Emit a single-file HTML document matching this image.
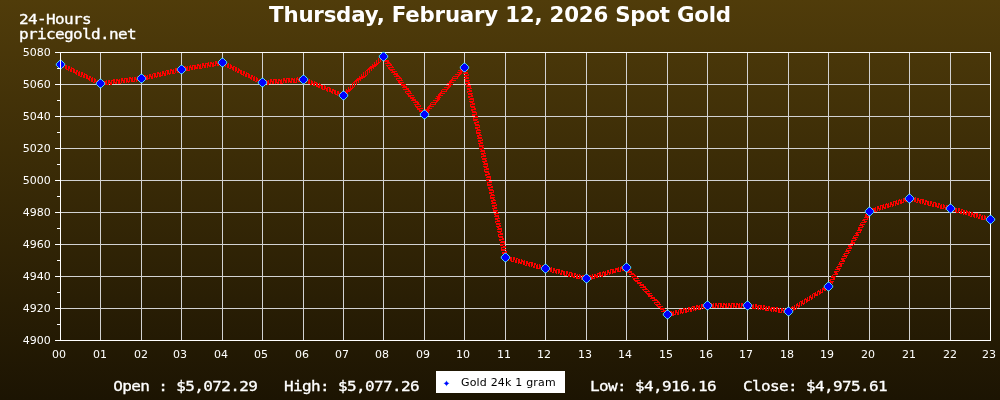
<!DOCTYPE html>
<html><head><meta charset="utf-8"><title>Spot Gold</title>
<style>
html,body{margin:0;padding:0;background:#1c1402;overflow:hidden}
svg{display:block}
text{font-family:"DejaVu Sans","Liberation Sans",sans-serif;fill:#fff}
.m{font-family:"DejaVu Sans Mono","Liberation Mono",monospace;font-size:13.7px;fill:#fff;stroke:#fff;stroke-width:0.3px}
.a{font-size:11px}
</style></head><body>
<svg width="1000" height="400" viewBox="0 0 1000 400">
<defs><linearGradient id="bg" x1="0" y1="0" x2="0" y2="1"><stop offset="0" stop-color="#503c0a"/><stop offset="1" stop-color="#1c1402"/></linearGradient></defs>
<rect width="1000" height="400" fill="url(#bg)"/>

<g stroke="#d2d2d2" stroke-width="1" shape-rendering="crispEdges">
<line x1="61" y1="84.5" x2="990" y2="84.5"/>
<line x1="61" y1="116.5" x2="990" y2="116.5"/>
<line x1="61" y1="148.5" x2="990" y2="148.5"/>
<line x1="61" y1="180.5" x2="990" y2="180.5"/>
<line x1="61" y1="212.5" x2="990" y2="212.5"/>
<line x1="61" y1="244.5" x2="990" y2="244.5"/>
<line x1="61" y1="276.5" x2="990" y2="276.5"/>
<line x1="61" y1="308.5" x2="990" y2="308.5"/>
<line x1="100.5" y1="53" x2="100.5" y2="340"/>
<line x1="141.5" y1="53" x2="141.5" y2="340"/>
<line x1="181.5" y1="53" x2="181.5" y2="340"/>
<line x1="222.5" y1="53" x2="222.5" y2="340"/>
<line x1="262.5" y1="53" x2="262.5" y2="340"/>
<line x1="303.5" y1="53" x2="303.5" y2="340"/>
<line x1="343.5" y1="53" x2="343.5" y2="340"/>
<line x1="383.5" y1="53" x2="383.5" y2="340"/>
<line x1="424.5" y1="53" x2="424.5" y2="340"/>
<line x1="464.5" y1="53" x2="464.5" y2="340"/>
<line x1="505.5" y1="53" x2="505.5" y2="340"/>
<line x1="545.5" y1="53" x2="545.5" y2="340"/>
<line x1="586.5" y1="53" x2="586.5" y2="340"/>
<line x1="626.5" y1="53" x2="626.5" y2="340"/>
<line x1="667.5" y1="53" x2="667.5" y2="340"/>
<line x1="707.5" y1="53" x2="707.5" y2="340"/>
<line x1="747.5" y1="53" x2="747.5" y2="340"/>
<line x1="788.5" y1="53" x2="788.5" y2="340"/>
<line x1="828.5" y1="53" x2="828.5" y2="340"/>
<line x1="869.5" y1="53" x2="869.5" y2="340"/>
<line x1="909.5" y1="53" x2="909.5" y2="340"/>
<line x1="950.5" y1="53" x2="950.5" y2="340"/>
</g>
<rect x="60.5" y="52.5" width="930" height="288" stroke="#ffffff" stroke-width="1" shape-rendering="crispEdges" fill="none"/>
<g class="a" text-anchor="end">
<text x="50.8" y="56.3">5080</text>
<text x="50.8" y="88.3">5060</text>
<text x="50.8" y="120.3">5040</text>
<text x="50.8" y="152.3">5020</text>
<text x="50.8" y="184.3">5000</text>
<text x="50.8" y="216.3">4980</text>
<text x="50.8" y="248.3">4960</text>
<text x="50.8" y="280.3">4940</text>
<text x="50.8" y="312.3">4920</text>
<text x="50.8" y="344.3">4900</text>
</g><g class="a" text-anchor="middle">
<text x="59.1" y="358">00</text>
<text x="100.1" y="358">01</text>
<text x="141.1" y="358">02</text>
<text x="180.1" y="358">03</text>
<text x="221.1" y="358">04</text>
<text x="261.1" y="358">05</text>
<text x="302.1" y="358">06</text>
<text x="342.1" y="358">07</text>
<text x="382.1" y="358">08</text>
<text x="423.1" y="358">09</text>
<text x="463.1" y="358">10</text>
<text x="504.1" y="358">11</text>
<text x="544.1" y="358">12</text>
<text x="585.1" y="358">13</text>
<text x="625.1" y="358">14</text>
<text x="666.1" y="358">15</text>
<text x="706.1" y="358">16</text>
<text x="746.1" y="358">17</text>
<text x="787.1" y="358">18</text>
<text x="827.1" y="358">19</text>
<text x="868.1" y="358">20</text>
<text x="909.1" y="358">21</text>
<text x="950.1" y="358">22</text>
<text x="989.1" y="358">23</text>
</g>
<path d="M383 53h1v1h-1zM382 54h2v1h-2zM381 55h3v1h-3zM380 56h6v1h-6zM379 57h5v1h-5zM378 58h1v1h-1zM380 58h1v1h-1zM382 58h5v1h-5zM378 59h1v1h-1zM380 59h1v1h-1zM382 59h4v1h-4zM220 60h3v1h-3zM376 60h1v1h-1zM378 60h1v1h-1zM380 60h1v1h-1zM385 60h4v1h-4zM215 61h2v1h-2zM218 61h6v1h-6zM376 61h1v1h-1zM378 61h1v1h-1zM380 61h1v1h-1zM384 61h5v1h-5zM60 62h2v1h-2zM208 62h1v1h-1zM210 62h2v1h-2zM213 62h1v1h-1zM215 62h2v1h-2zM218 62h1v1h-1zM220 62h4v1h-4zM225 62h2v1h-2zM374 62h1v1h-1zM376 62h1v1h-1zM378 62h2v1h-2zM387 62h3v1h-3zM60 63h2v1h-2zM63 63h1v1h-1zM202 63h2v1h-2zM205 63h4v1h-4zM210 63h4v1h-4zM215 63h4v1h-4zM220 63h4v1h-4zM225 63h2v1h-2zM228 63h1v1h-1zM374 63h1v1h-1zM376 63h3v1h-3zM385 63h6v1h-6zM60 64h2v1h-2zM63 64h2v1h-2zM197 64h2v1h-2zM200 64h1v1h-1zM202 64h2v1h-2zM205 64h1v1h-1zM207 64h2v1h-2zM210 64h1v1h-1zM212 64h2v1h-2zM215 64h1v1h-1zM217 64h2v1h-2zM220 64h1v1h-1zM222 64h4v1h-4zM227 64h2v1h-2zM230 64h1v1h-1zM372 64h1v1h-1zM374 64h4v1h-4zM390 64h2v1h-2zM60 65h2v1h-2zM63 65h4v1h-4zM190 65h1v1h-1zM192 65h4v1h-4zM197 65h4v1h-4zM202 65h4v1h-4zM207 65h4v1h-4zM212 65h4v1h-4zM217 65h2v1h-2zM224 65h2v1h-2zM227 65h2v1h-2zM230 65h2v1h-2zM372 65h5v1h-5zM386 65h6v1h-6zM60 66h1v1h-1zM62 66h2v1h-2zM65 66h2v1h-2zM68 66h2v1h-2zM184 66h2v1h-2zM187 66h1v1h-1zM189 66h2v1h-2zM192 66h1v1h-1zM194 66h2v1h-2zM197 66h1v1h-1zM199 66h2v1h-2zM202 66h1v1h-1zM204 66h2v1h-2zM207 66h1v1h-1zM209 66h2v1h-2zM212 66h2v1h-2zM225 66h1v1h-1zM227 66h2v1h-2zM230 66h2v1h-2zM233 66h2v1h-2zM370 66h6v1h-6zM387 66h1v1h-1zM392 66h1v1h-1zM62 67h2v1h-2zM65 67h2v1h-2zM68 67h2v1h-2zM71 67h1v1h-1zM179 67h4v1h-4zM184 67h4v1h-4zM189 67h4v1h-4zM194 67h4v1h-4zM199 67h2v1h-2zM202 67h1v1h-1zM204 67h2v1h-2zM207 67h1v1h-1zM227 67h2v1h-2zM230 67h4v1h-4zM235 67h2v1h-2zM369 67h5v1h-5zM388 67h6v1h-6zM461 67h6v1h-6zM65 68h2v1h-2zM68 68h2v1h-2zM71 68h3v1h-3zM175 68h2v1h-2zM178 68h1v1h-1zM180 68h3v1h-3zM184 68h1v1h-1zM186 68h2v1h-2zM189 68h1v1h-1zM191 68h2v1h-2zM194 68h4v1h-4zM199 68h3v1h-3zM229 68h2v1h-2zM232 68h2v1h-2zM235 68h2v1h-2zM238 68h1v1h-1zM368 68h4v1h-4zM373 68h1v1h-1zM388 68h2v1h-2zM460 68h6v1h-6zM66 69h3v1h-3zM70 69h2v1h-2zM73 69h2v1h-2zM170 69h2v1h-2zM173 69h1v1h-1zM175 69h2v1h-2zM178 69h1v1h-1zM180 69h3v1h-3zM184 69h1v1h-1zM186 69h2v1h-2zM189 69h1v1h-1zM191 69h2v1h-2zM194 69h1v1h-1zM232 69h2v1h-2zM235 69h2v1h-2zM238 69h2v1h-2zM367 69h3v1h-3zM371 69h1v1h-1zM389 69h6v1h-6zM460 69h7v1h-7zM68 70h1v1h-1zM70 70h2v1h-2zM73 70h2v1h-2zM76 70h2v1h-2zM166 70h3v1h-3zM170 70h4v1h-4zM175 70h4v1h-4zM180 70h5v1h-5zM186 70h4v1h-4zM233 70h1v1h-1zM235 70h2v1h-2zM238 70h4v1h-4zM366 70h2v1h-2zM369 70h1v1h-1zM371 70h1v1h-1zM390 70h3v1h-3zM458 70h4v1h-4zM463 70h5v1h-5zM70 71h2v1h-2zM73 71h2v1h-2zM76 71h2v1h-2zM79 71h1v1h-1zM162 71h2v1h-2zM165 71h1v1h-1zM167 71h2v1h-2zM170 71h1v1h-1zM172 71h2v1h-2zM175 71h1v1h-1zM177 71h2v1h-2zM180 71h2v1h-2zM183 71h1v1h-1zM235 71h1v1h-1zM237 71h2v1h-2zM240 71h2v1h-2zM243 71h2v1h-2zM365 71h1v1h-1zM367 71h1v1h-1zM369 71h1v1h-1zM392 71h5v1h-5zM460 71h5v1h-5zM73 72h4v1h-4zM78 72h2v1h-2zM81 72h2v1h-2zM157 72h2v1h-2zM160 72h1v1h-1zM162 72h2v1h-2zM165 72h1v1h-1zM167 72h2v1h-2zM170 72h1v1h-1zM172 72h2v1h-2zM175 72h1v1h-1zM177 72h2v1h-2zM237 72h2v1h-2zM240 72h2v1h-2zM243 72h2v1h-2zM246 72h1v1h-1zM363 72h1v1h-1zM365 72h1v1h-1zM367 72h1v1h-1zM369 72h1v1h-1zM391 72h4v1h-4zM457 72h5v1h-5zM464 72h4v1h-4zM75 73h2v1h-2zM78 73h2v1h-2zM81 73h2v1h-2zM84 73h1v1h-1zM153 73h3v1h-3zM157 73h4v1h-4zM162 73h4v1h-4zM167 73h4v1h-4zM172 73h3v1h-3zM240 73h2v1h-2zM243 73h2v1h-2zM246 73h3v1h-3zM363 73h1v1h-1zM365 73h1v1h-1zM367 73h1v1h-1zM394 73h4v1h-4zM459 73h3v1h-3zM463 73h5v1h-5zM76 74h1v1h-1zM78 74h2v1h-2zM81 74h2v1h-2zM84 74h3v1h-3zM149 74h2v1h-2zM152 74h1v1h-1zM154 74h2v1h-2zM157 74h1v1h-1zM159 74h2v1h-2zM162 74h1v1h-1zM164 74h2v1h-2zM167 74h1v1h-1zM169 74h1v1h-1zM241 74h3v1h-3zM245 74h2v1h-2zM248 74h2v1h-2zM361 74h1v1h-1zM363 74h1v1h-1zM365 74h1v1h-1zM367 74h1v1h-1zM393 74h5v1h-5zM455 74h6v1h-6zM468 74h1v1h-1zM78 75h2v1h-2zM81 75h1v1h-1zM83 75h2v1h-2zM86 75h2v1h-2zM144 75h2v1h-2zM147 75h1v1h-1zM149 75h2v1h-2zM152 75h1v1h-1zM154 75h2v1h-2zM157 75h1v1h-1zM159 75h4v1h-4zM164 75h2v1h-2zM243 75h1v1h-1zM245 75h2v1h-2zM248 75h2v1h-2zM251 75h2v1h-2zM361 75h1v1h-1zM363 75h1v1h-1zM365 75h2v1h-2zM396 75h3v1h-3zM458 75h2v1h-2zM464 75h5v1h-5zM80 76h2v1h-2zM83 76h2v1h-2zM86 76h2v1h-2zM89 76h2v1h-2zM137 76h6v1h-6zM144 76h4v1h-4zM149 76h4v1h-4zM154 76h4v1h-4zM159 76h2v1h-2zM245 76h2v1h-2zM248 76h2v1h-2zM251 76h2v1h-2zM254 76h1v1h-1zM359 76h1v1h-1zM361 76h5v1h-5zM394 76h6v1h-6zM453 76h6v1h-6zM464 76h3v1h-3zM83 77h2v1h-2zM86 77h2v1h-2zM89 77h2v1h-2zM92 77h1v1h-1zM129 77h2v1h-2zM132 77h1v1h-1zM134 77h2v1h-2zM137 77h1v1h-1zM139 77h4v1h-4zM144 77h1v1h-1zM146 77h2v1h-2zM149 77h1v1h-1zM151 77h2v1h-2zM154 77h1v1h-1zM156 77h1v1h-1zM248 77h4v1h-4zM253 77h2v1h-2zM256 77h1v1h-1zM297 77h1v1h-1zM299 77h6v1h-6zM359 77h6v1h-6zM399 77h2v1h-2zM452 77h1v1h-1zM457 77h1v1h-1zM466 77h3v1h-3zM86 78h4v1h-4zM91 78h2v1h-2zM94 78h1v1h-1zM121 78h2v1h-2zM124 78h4v1h-4zM129 78h4v1h-4zM134 78h2v1h-2zM137 78h1v1h-1zM139 78h4v1h-4zM144 78h1v1h-1zM146 78h4v1h-4zM151 78h2v1h-2zM250 78h2v1h-2zM253 78h2v1h-2zM256 78h2v1h-2zM283 78h2v1h-2zM286 78h4v1h-4zM291 78h2v1h-2zM294 78h1v1h-1zM296 78h2v1h-2zM299 78h1v1h-1zM301 78h4v1h-4zM306 78h1v1h-1zM357 78h6v1h-6zM396 78h6v1h-6zM452 78h6v1h-6zM464 78h5v1h-5zM88 79h2v1h-2zM91 79h2v1h-2zM94 79h2v1h-2zM113 79h2v1h-2zM116 79h2v1h-2zM119 79h1v1h-1zM121 79h2v1h-2zM124 79h1v1h-1zM126 79h2v1h-2zM129 79h1v1h-1zM131 79h2v1h-2zM134 79h4v1h-4zM139 79h6v1h-6zM146 79h2v1h-2zM251 79h1v1h-1zM253 79h2v1h-2zM256 79h2v1h-2zM259 79h2v1h-2zM270 79h2v1h-2zM273 79h4v1h-4zM278 79h2v1h-2zM281 79h1v1h-1zM283 79h2v1h-2zM286 79h1v1h-1zM288 79h2v1h-2zM291 79h4v1h-4zM296 79h4v1h-4zM301 79h4v1h-4zM306 79h2v1h-2zM309 79h1v1h-1zM356 79h5v1h-5zM396 79h1v1h-1zM401 79h1v1h-1zM451 79h2v1h-2zM465 79h1v1h-1zM89 80h1v1h-1zM91 80h2v1h-2zM94 80h2v1h-2zM97 80h2v1h-2zM106 80h1v1h-1zM108 80h2v1h-2zM111 80h4v1h-4zM116 80h4v1h-4zM121 80h4v1h-4zM126 80h2v1h-2zM129 80h1v1h-1zM131 80h2v1h-2zM134 80h1v1h-1zM136 80h2v1h-2zM139 80h1v1h-1zM141 80h1v1h-1zM143 80h1v1h-1zM253 80h2v1h-2zM256 80h4v1h-4zM261 80h3v1h-3zM265 80h2v1h-2zM268 80h1v1h-1zM270 80h2v1h-2zM273 80h1v1h-1zM275 80h2v1h-2zM278 80h4v1h-4zM283 80h4v1h-4zM288 80h2v1h-2zM291 80h1v1h-1zM293 80h2v1h-2zM296 80h1v1h-1zM298 80h2v1h-2zM301 80h4v1h-4zM306 80h4v1h-4zM311 80h1v1h-1zM355 80h4v1h-4zM360 80h1v1h-1zM397 80h6v1h-6zM450 80h6v1h-6zM465 80h5v1h-5zM91 81h2v1h-2zM94 81h4v1h-4zM99 81h3v1h-3zM103 81h4v1h-4zM108 81h2v1h-2zM111 81h1v1h-1zM113 81h2v1h-2zM116 81h1v1h-1zM118 81h2v1h-2zM121 81h1v1h-1zM123 81h2v1h-2zM126 81h4v1h-4zM131 81h4v1h-4zM136 81h1v1h-1zM255 81h2v1h-2zM258 81h2v1h-2zM261 81h3v1h-3zM265 81h4v1h-4zM270 81h4v1h-4zM275 81h2v1h-2zM278 81h1v1h-1zM280 81h2v1h-2zM283 81h1v1h-1zM285 81h2v1h-2zM288 81h4v1h-4zM293 81h2v1h-2zM296 81h1v1h-1zM298 81h2v1h-2zM301 81h1v1h-1zM303 81h1v1h-1zM305 81h2v1h-2zM308 81h2v1h-2zM311 81h2v1h-2zM314 81h1v1h-1zM354 81h3v1h-3zM358 81h1v1h-1zM398 81h2v1h-2zM449 81h3v1h-3zM465 81h4v1h-4zM93 82h2v1h-2zM96 82h2v1h-2zM99 82h3v1h-3zM103 82h4v1h-4zM108 82h4v1h-4zM113 82h4v1h-4zM118 82h2v1h-2zM121 82h1v1h-1zM123 82h2v1h-2zM126 82h1v1h-1zM128 82h1v1h-1zM258 82h2v1h-2zM261 82h3v1h-3zM265 82h1v1h-1zM267 82h2v1h-2zM270 82h1v1h-1zM272 82h2v1h-2zM275 82h4v1h-4zM280 82h2v1h-2zM283 82h1v1h-1zM285 82h2v1h-2zM288 82h1v1h-1zM290 82h2v1h-2zM293 82h4v1h-4zM305 82h2v1h-2zM308 82h2v1h-2zM311 82h2v1h-2zM314 82h3v1h-3zM353 82h2v1h-2zM356 82h1v1h-1zM358 82h1v1h-1zM398 82h6v1h-6zM449 82h5v1h-5zM468 82h2v1h-2zM96 83h2v1h-2zM99 83h3v1h-3zM103 83h1v1h-1zM105 83h2v1h-2zM108 83h1v1h-1zM110 83h2v1h-2zM113 83h1v1h-1zM115 83h2v1h-2zM118 83h3v1h-3zM259 83h1v1h-1zM261 83h5v1h-5zM267 83h4v1h-4zM272 83h2v1h-2zM275 83h1v1h-1zM277 83h2v1h-2zM280 83h3v1h-3zM308 83h2v1h-2zM311 83h4v1h-4zM316 83h2v1h-2zM319 83h1v1h-1zM352 83h1v1h-1zM354 83h1v1h-1zM356 83h1v1h-1zM399 83h3v1h-3zM447 83h4v1h-4zM465 83h5v1h-5zM97 84h1v1h-1zM99 84h5v1h-5zM105 84h4v1h-4zM110 84h2v1h-2zM261 84h2v1h-2zM264 84h2v1h-2zM267 84h2v1h-2zM310 84h2v1h-2zM313 84h2v1h-2zM316 84h2v1h-2zM319 84h2v1h-2zM352 84h1v1h-1zM354 84h1v1h-1zM356 84h1v1h-1zM401 84h5v1h-5zM449 84h4v1h-4zM466 84h2v1h-2zM99 85h2v1h-2zM102 85h2v1h-2zM313 85h2v1h-2zM316 85h2v1h-2zM319 85h4v1h-4zM324 85h1v1h-1zM350 85h1v1h-1zM352 85h1v1h-1zM354 85h1v1h-1zM401 85h4v1h-4zM446 85h5v1h-5zM467 85h4v1h-4zM316 86h4v1h-4zM321 86h2v1h-2zM324 86h2v1h-2zM350 86h1v1h-1zM352 86h1v1h-1zM354 86h1v1h-1zM403 86h4v1h-4zM448 86h3v1h-3zM466 86h5v1h-5zM318 87h2v1h-2zM321 87h2v1h-2zM324 87h2v1h-2zM327 87h3v1h-3zM348 87h1v1h-1zM350 87h1v1h-1zM352 87h2v1h-2zM402 87h5v1h-5zM444 87h6v1h-6zM470 87h1v1h-1zM321 88h2v1h-2zM324 88h4v1h-4zM329 88h2v1h-2zM348 88h1v1h-1zM350 88h3v1h-3zM406 88h3v1h-3zM447 88h2v1h-2zM467 88h5v1h-5zM322 89h3v1h-3zM326 89h2v1h-2zM329 89h2v1h-2zM332 89h2v1h-2zM346 89h1v1h-1zM348 89h4v1h-4zM403 89h6v1h-6zM442 89h6v1h-6zM467 89h3v1h-3zM326 90h2v1h-2zM329 90h2v1h-2zM332 90h4v1h-4zM346 90h5v1h-5zM408 90h2v1h-2zM441 90h1v1h-1zM446 90h1v1h-1zM469 90h3v1h-3zM327 91h1v1h-1zM329 91h4v1h-4zM334 91h2v1h-2zM337 91h2v1h-2zM344 91h6v1h-6zM405 91h6v1h-6zM441 91h6v1h-6zM467 91h5v1h-5zM331 92h2v1h-2zM334 92h2v1h-2zM337 92h2v1h-2zM340 92h2v1h-2zM343 92h5v1h-5zM405 92h1v1h-1zM410 92h1v1h-1zM440 92h2v1h-2zM467 92h1v1h-1zM332 93h1v1h-1zM334 93h2v1h-2zM337 93h4v1h-4zM342 93h4v1h-4zM347 93h1v1h-1zM406 93h6v1h-6zM439 93h6v1h-6zM468 93h5v1h-5zM335 94h3v1h-3zM339 94h2v1h-2zM342 94h2v1h-2zM345 94h1v1h-1zM407 94h2v1h-2zM438 94h3v1h-3zM468 94h4v1h-4zM337 95h1v1h-1zM339 95h2v1h-2zM342 95h2v1h-2zM345 95h1v1h-1zM408 95h6v1h-6zM438 95h5v1h-5zM471 95h2v1h-2zM340 96h1v1h-1zM342 96h2v1h-2zM408 96h3v1h-3zM436 96h4v1h-4zM468 96h5v1h-5zM342 97h2v1h-2zM410 97h5v1h-5zM437 97h4v1h-4zM468 97h2v1h-2zM410 98h4v1h-4zM435 98h5v1h-5zM470 98h4v1h-4zM412 99h4v1h-4zM437 99h3v1h-3zM469 99h5v1h-5zM411 100h5v1h-5zM433 100h6v1h-6zM473 100h1v1h-1zM415 101h3v1h-3zM436 101h2v1h-2zM469 101h5v1h-5zM413 102h6v1h-6zM431 102h6v1h-6zM470 102h3v1h-3zM417 103h2v1h-2zM430 103h1v1h-1zM435 103h1v1h-1zM472 103h3v1h-3zM414 104h6v1h-6zM430 104h6v1h-6zM470 104h5v1h-5zM415 105h1v1h-1zM420 105h1v1h-1zM429 105h2v1h-2zM470 105h1v1h-1zM415 106h6v1h-6zM428 106h6v1h-6zM470 106h5v1h-5zM416 107h2v1h-2zM427 107h3v1h-3zM471 107h4v1h-4zM417 108h6v1h-6zM427 108h5v1h-5zM474 108h2v1h-2zM417 109h3v1h-3zM425 109h4v1h-4zM471 109h5v1h-5zM419 110h5v1h-5zM426 110h4v1h-4zM471 110h2v1h-2zM419 111h4v1h-4zM424 111h5v1h-5zM472 111h4v1h-4zM422 112h7v1h-7zM472 112h5v1h-5zM420 113h8v1h-8zM476 113h1v1h-1zM424 114h3v1h-3zM472 114h5v1h-5zM472 115h3v1h-3zM475 116h3v1h-3zM473 117h5v1h-5zM473 118h1v1h-1zM473 119h5v1h-5zM473 120h4v1h-4zM477 121h2v1h-2zM474 122h5v1h-5zM474 123h2v1h-2zM475 124h4v1h-4zM475 125h5v1h-5zM479 126h1v1h-1zM475 127h5v1h-5zM475 128h3v1h-3zM477 129h3v1h-3zM476 130h5v1h-5zM476 131h1v1h-1zM476 132h5v1h-5zM476 133h4v1h-4zM479 134h2v1h-2zM477 135h5v1h-5zM477 136h2v1h-2zM478 137h4v1h-4zM477 138h5v1h-5zM482 139h1v1h-1zM478 140h5v1h-5zM478 141h3v1h-3zM480 142h3v1h-3zM478 143h5v1h-5zM479 144h1v1h-1zM479 145h5v1h-5zM479 146h4v1h-4zM482 147h2v1h-2zM479 148h5v1h-5zM480 149h2v1h-2zM481 150h4v1h-4zM480 151h5v1h-5zM484 152h1v1h-1zM481 153h5v1h-5zM481 154h3v1h-3zM483 155h3v1h-3zM481 156h5v1h-5zM481 157h1v1h-1zM482 158h5v1h-5zM482 159h4v1h-4zM485 160h2v1h-2zM482 161h5v1h-5zM483 162h2v1h-2zM484 163h4v1h-4zM483 164h5v1h-5zM487 165h1v1h-1zM483 166h5v1h-5zM484 167h3v1h-3zM486 168h3v1h-3zM484 169h5v1h-5zM484 170h1v1h-1zM484 171h5v1h-5zM485 172h4v1h-4zM488 173h2v1h-2zM485 174h5v1h-5zM485 175h2v1h-2zM487 176h4v1h-4zM486 177h5v1h-5zM490 178h1v1h-1zM486 179h5v1h-5zM486 180h3v1h-3zM489 181h3v1h-3zM487 182h5v1h-5zM487 183h1v1h-1zM487 184h5v1h-5zM487 185h4v1h-4zM491 186h2v1h-2zM488 187h5v1h-5zM488 188h2v1h-2zM489 189h4v1h-4zM489 190h5v1h-5zM493 191h1v1h-1zM489 192h5v1h-5zM489 193h3v1h-3zM491 194h3v1h-3zM490 195h5v1h-5zM490 196h1v1h-1zM908 196h3v1h-3zM490 197h5v1h-5zM906 197h5v1h-5zM912 197h2v1h-2zM915 197h1v1h-1zM490 198h4v1h-4zM903 198h2v1h-2zM906 198h1v1h-1zM908 198h3v1h-3zM912 198h4v1h-4zM917 198h2v1h-2zM493 199h2v1h-2zM899 199h1v1h-1zM901 199h1v1h-1zM903 199h4v1h-4zM908 199h5v1h-5zM914 199h2v1h-2zM917 199h2v1h-2zM920 199h4v1h-4zM491 200h5v1h-5zM896 200h1v1h-1zM898 200h4v1h-4zM903 200h4v1h-4zM908 200h2v1h-2zM911 200h2v1h-2zM914 200h2v1h-2zM917 200h4v1h-4zM922 200h2v1h-2zM925 200h2v1h-2zM491 201h2v1h-2zM893 201h4v1h-4zM898 201h1v1h-1zM900 201h2v1h-2zM903 201h1v1h-1zM905 201h2v1h-2zM912 201h1v1h-1zM914 201h2v1h-2zM917 201h1v1h-1zM919 201h2v1h-2zM922 201h2v1h-2zM925 201h4v1h-4zM930 201h2v1h-2zM492 202h4v1h-4zM890 202h2v1h-2zM893 202h1v1h-1zM895 202h2v1h-2zM898 202h1v1h-1zM900 202h4v1h-4zM916 202h2v1h-2zM919 202h2v1h-2zM922 202h2v1h-2zM925 202h1v1h-1zM927 202h2v1h-2zM930 202h2v1h-2zM933 202h3v1h-3zM491 203h5v1h-5zM886 203h1v1h-1zM888 203h1v1h-1zM890 203h2v1h-2zM893 203h1v1h-1zM895 203h4v1h-4zM900 203h2v1h-2zM920 203h1v1h-1zM922 203h1v1h-1zM924 203h2v1h-2zM927 203h2v1h-2zM930 203h2v1h-2zM933 203h1v1h-1zM935 203h2v1h-2zM938 203h2v1h-2zM496 204h1v1h-1zM883 204h1v1h-1zM885 204h4v1h-4zM890 204h4v1h-4zM895 204h1v1h-1zM897 204h2v1h-2zM924 204h2v1h-2zM927 204h2v1h-2zM930 204h1v1h-1zM932 204h2v1h-2zM935 204h2v1h-2zM938 204h2v1h-2zM941 204h1v1h-1zM943 204h1v1h-1zM492 205h5v1h-5zM880 205h4v1h-4zM885 205h1v1h-1zM887 205h2v1h-2zM890 205h1v1h-1zM892 205h2v1h-2zM895 205h1v1h-1zM928 205h3v1h-3zM932 205h2v1h-2zM935 205h2v1h-2zM938 205h1v1h-1zM940 205h2v1h-2zM943 205h2v1h-2zM946 205h2v1h-2zM492 206h3v1h-3zM877 206h2v1h-2zM880 206h1v1h-1zM882 206h2v1h-2zM885 206h1v1h-1zM887 206h4v1h-4zM892 206h1v1h-1zM932 206h2v1h-2zM935 206h4v1h-4zM940 206h2v1h-2zM943 206h2v1h-2zM946 206h1v1h-1zM948 206h4v1h-4zM494 207h3v1h-3zM875 207h1v1h-1zM877 207h2v1h-2zM880 207h1v1h-1zM882 207h4v1h-4zM887 207h2v1h-2zM937 207h2v1h-2zM940 207h2v1h-2zM943 207h4v1h-4zM948 207h4v1h-4zM953 207h2v1h-2zM492 208h5v1h-5zM872 208h4v1h-4zM877 208h4v1h-4zM882 208h1v1h-1zM884 208h2v1h-2zM940 208h4v1h-4zM945 208h2v1h-2zM948 208h4v1h-4zM953 208h4v1h-4zM958 208h2v1h-2zM493 209h1v1h-1zM869 209h2v1h-2zM872 209h4v1h-4zM877 209h1v1h-1zM879 209h2v1h-2zM882 209h1v1h-1zM945 209h2v1h-2zM948 209h4v1h-4zM953 209h1v1h-1zM955 209h2v1h-2zM958 209h2v1h-2zM961 209h2v1h-2zM493 210h5v1h-5zM869 210h2v1h-2zM872 210h1v1h-1zM874 210h2v1h-2zM877 210h1v1h-1zM879 210h1v1h-1zM948 210h1v1h-1zM950 210h1v1h-1zM952 210h2v1h-2zM955 210h2v1h-2zM958 210h2v1h-2zM961 210h1v1h-1zM963 210h2v1h-2zM966 210h1v1h-1zM493 211h4v1h-4zM867 211h6v1h-6zM874 211h3v1h-3zM952 211h2v1h-2zM955 211h2v1h-2zM958 211h1v1h-1zM960 211h2v1h-2zM963 211h2v1h-2zM966 211h2v1h-2zM969 211h1v1h-1zM496 212h2v1h-2zM866 212h7v1h-7zM956 212h3v1h-3zM960 212h2v1h-2zM963 212h2v1h-2zM966 212h4v1h-4zM971 212h2v1h-2zM494 213h5v1h-5zM869 213h2v1h-2zM960 213h2v1h-2zM963 213h4v1h-4zM968 213h2v1h-2zM971 213h2v1h-2zM974 213h4v1h-4zM494 214h2v1h-2zM865 214h5v1h-5zM963 214h1v1h-1zM965 214h2v1h-2zM968 214h2v1h-2zM971 214h4v1h-4zM976 214h2v1h-2zM979 214h2v1h-2zM495 215h4v1h-4zM865 215h2v1h-2zM968 215h2v1h-2zM971 215h1v1h-1zM973 215h2v1h-2zM976 215h2v1h-2zM979 215h2v1h-2zM982 215h1v1h-1zM984 215h1v1h-1zM494 216h5v1h-5zM865 216h4v1h-4zM970 216h2v1h-2zM973 216h2v1h-2zM976 216h2v1h-2zM979 216h1v1h-1zM981 216h2v1h-2zM984 216h2v1h-2zM987 216h2v1h-2zM498 217h1v1h-1zM864 217h5v1h-5zM974 217h1v1h-1zM976 217h1v1h-1zM978 217h2v1h-2zM981 217h2v1h-2zM984 217h2v1h-2zM987 217h1v1h-1zM989 217h2v1h-2zM495 218h5v1h-5zM867 218h1v1h-1zM978 218h2v1h-2zM981 218h2v1h-2zM984 218h4v1h-4zM989 218h2v1h-2zM495 219h3v1h-3zM863 219h5v1h-5zM981 219h4v1h-4zM986 219h2v1h-2zM989 219h2v1h-2zM497 220h3v1h-3zM862 220h3v1h-3zM986 220h2v1h-2zM989 220h2v1h-2zM495 221h5v1h-5zM864 221h3v1h-3zM989 221h1v1h-1zM495 222h1v1h-1zM861 222h5v1h-5zM496 223h5v1h-5zM860 223h1v1h-1zM496 224h4v1h-4zM860 224h5v1h-5zM499 225h2v1h-2zM859 225h4v1h-4zM496 226h5v1h-5zM862 226h2v1h-2zM497 227h2v1h-2zM858 227h5v1h-5zM498 228h4v1h-4zM858 228h2v1h-2zM497 229h5v1h-5zM858 229h4v1h-4zM501 230h1v1h-1zM857 230h5v1h-5zM497 231h5v1h-5zM860 231h1v1h-1zM498 232h3v1h-3zM856 232h5v1h-5zM500 233h3v1h-3zM855 233h3v1h-3zM498 234h5v1h-5zM856 234h3v1h-3zM498 235h1v1h-1zM854 235h5v1h-5zM498 236h5v1h-5zM853 236h1v1h-1zM499 237h4v1h-4zM853 237h5v1h-5zM502 238h2v1h-2zM852 238h4v1h-4zM499 239h5v1h-5zM855 239h2v1h-2zM499 240h2v1h-2zM851 240h5v1h-5zM501 241h4v1h-4zM851 241h2v1h-2zM500 242h5v1h-5zM851 242h4v1h-4zM504 243h1v1h-1zM850 243h5v1h-5zM500 244h5v1h-5zM853 244h1v1h-1zM500 245h3v1h-3zM848 245h5v1h-5zM503 246h3v1h-3zM848 246h3v1h-3zM501 247h5v1h-5zM849 247h3v1h-3zM501 248h1v1h-1zM847 248h5v1h-5zM501 249h5v1h-5zM846 249h1v1h-1zM501 250h4v1h-4zM846 250h5v1h-5zM505 251h2v1h-2zM845 251h4v1h-4zM502 252h5v1h-5zM848 252h2v1h-2zM502 253h2v1h-2zM844 253h5v1h-5zM503 254h4v1h-4zM843 254h2v1h-2zM503 255h5v1h-5zM844 255h4v1h-4zM505 256h5v1h-5zM842 256h5v1h-5zM503 257h9v1h-9zM513 257h2v1h-2zM846 257h1v1h-1zM505 258h2v1h-2zM508 258h1v1h-1zM510 258h2v1h-2zM513 258h2v1h-2zM516 258h2v1h-2zM841 258h5v1h-5zM505 259h1v1h-1zM507 259h2v1h-2zM510 259h2v1h-2zM513 259h2v1h-2zM516 259h1v1h-1zM518 259h2v1h-2zM521 259h1v1h-1zM841 259h3v1h-3zM507 260h2v1h-2zM510 260h2v1h-2zM513 260h1v1h-1zM515 260h2v1h-2zM518 260h2v1h-2zM521 260h2v1h-2zM524 260h1v1h-1zM842 260h3v1h-3zM511 261h3v1h-3zM515 261h2v1h-2zM518 261h2v1h-2zM521 261h4v1h-4zM526 261h2v1h-2zM840 261h5v1h-5zM515 262h2v1h-2zM518 262h4v1h-4zM523 262h2v1h-2zM526 262h2v1h-2zM529 262h4v1h-4zM839 262h1v1h-1zM518 263h1v1h-1zM520 263h2v1h-2zM523 263h2v1h-2zM526 263h4v1h-4zM531 263h2v1h-2zM534 263h2v1h-2zM839 263h5v1h-5zM523 264h2v1h-2zM526 264h1v1h-1zM528 264h2v1h-2zM531 264h2v1h-2zM534 264h2v1h-2zM537 264h1v1h-1zM539 264h1v1h-1zM838 264h4v1h-4zM525 265h2v1h-2zM528 265h2v1h-2zM531 265h2v1h-2zM534 265h1v1h-1zM536 265h2v1h-2zM539 265h2v1h-2zM542 265h2v1h-2zM625 265h2v1h-2zM840 265h2v1h-2zM529 266h1v1h-1zM531 266h1v1h-1zM533 266h2v1h-2zM536 266h2v1h-2zM539 266h2v1h-2zM542 266h1v1h-1zM544 266h3v1h-3zM621 266h1v1h-1zM623 266h4v1h-4zM837 266h5v1h-5zM533 267h2v1h-2zM536 267h2v1h-2zM539 267h4v1h-4zM544 267h3v1h-3zM548 267h2v1h-2zM551 267h1v1h-1zM618 267h1v1h-1zM620 267h2v1h-2zM623 267h6v1h-6zM836 267h2v1h-2zM536 268h4v1h-4zM541 268h2v1h-2zM544 268h3v1h-3zM548 268h4v1h-4zM553 268h2v1h-2zM615 268h4v1h-4zM620 268h7v1h-7zM837 268h4v1h-4zM541 269h2v1h-2zM544 269h5v1h-5zM550 269h2v1h-2zM553 269h2v1h-2zM556 269h4v1h-4zM610 269h4v1h-4zM615 269h4v1h-4zM620 269h1v1h-1zM622 269h2v1h-2zM625 269h6v1h-6zM835 269h5v1h-5zM544 270h2v1h-2zM547 270h2v1h-2zM550 270h2v1h-2zM553 270h4v1h-4zM558 270h2v1h-2zM561 270h2v1h-2zM607 270h2v1h-2zM610 270h1v1h-1zM612 270h2v1h-2zM615 270h1v1h-1zM617 270h2v1h-2zM620 270h1v1h-1zM622 270h2v1h-2zM626 270h4v1h-4zM839 270h1v1h-1zM548 271h1v1h-1zM550 271h2v1h-2zM553 271h1v1h-1zM555 271h2v1h-2zM558 271h2v1h-2zM561 271h4v1h-4zM566 271h2v1h-2zM603 271h1v1h-1zM605 271h1v1h-1zM607 271h2v1h-2zM610 271h1v1h-1zM612 271h4v1h-4zM617 271h4v1h-4zM628 271h4v1h-4zM834 271h5v1h-5zM552 272h2v1h-2zM555 272h2v1h-2zM558 272h2v1h-2zM561 272h1v1h-1zM563 272h2v1h-2zM566 272h2v1h-2zM569 272h3v1h-3zM599 272h2v1h-2zM602 272h4v1h-4zM607 272h4v1h-4zM612 272h4v1h-4zM627 272h5v1h-5zM834 272h3v1h-3zM556 273h1v1h-1zM558 273h1v1h-1zM560 273h2v1h-2zM563 273h2v1h-2zM566 273h2v1h-2zM569 273h1v1h-1zM571 273h2v1h-2zM574 273h2v1h-2zM597 273h4v1h-4zM602 273h1v1h-1zM604 273h2v1h-2zM607 273h1v1h-1zM609 273h2v1h-2zM612 273h1v1h-1zM631 273h3v1h-3zM835 273h3v1h-3zM560 274h2v1h-2zM563 274h2v1h-2zM566 274h1v1h-1zM568 274h2v1h-2zM571 274h2v1h-2zM574 274h2v1h-2zM577 274h1v1h-1zM579 274h1v1h-1zM592 274h1v1h-1zM594 274h2v1h-2zM597 274h1v1h-1zM599 274h2v1h-2zM602 274h1v1h-1zM604 274h4v1h-4zM609 274h1v1h-1zM629 274h6v1h-6zM833 274h5v1h-5zM564 275h3v1h-3zM568 275h2v1h-2zM571 275h2v1h-2zM574 275h1v1h-1zM576 275h2v1h-2zM579 275h2v1h-2zM582 275h2v1h-2zM589 275h2v1h-2zM592 275h1v1h-1zM594 275h4v1h-4zM599 275h4v1h-4zM604 275h2v1h-2zM634 275h2v1h-2zM832 275h1v1h-1zM568 276h2v1h-2zM571 276h4v1h-4zM576 276h2v1h-2zM579 276h2v1h-2zM582 276h1v1h-1zM584 276h4v1h-4zM589 276h4v1h-4zM594 276h4v1h-4zM599 276h1v1h-1zM601 276h2v1h-2zM631 276h6v1h-6zM831 276h5v1h-5zM573 277h2v1h-2zM576 277h2v1h-2zM579 277h4v1h-4zM584 277h4v1h-4zM589 277h1v1h-1zM591 277h2v1h-2zM594 277h1v1h-1zM596 277h2v1h-2zM632 277h1v1h-1zM637 277h1v1h-1zM831 277h4v1h-4zM576 278h4v1h-4zM581 278h2v1h-2zM584 278h6v1h-6zM591 278h4v1h-4zM633 278h6v1h-6zM833 278h2v1h-2zM581 279h2v1h-2zM584 279h6v1h-6zM591 279h1v1h-1zM633 279h2v1h-2zM830 279h5v1h-5zM584 280h1v1h-1zM586 280h1v1h-1zM634 280h6v1h-6zM829 280h2v1h-2zM635 281h3v1h-3zM830 281h4v1h-4zM637 282h5v1h-5zM828 282h5v1h-5zM637 283h4v1h-4zM832 283h1v1h-1zM640 284h4v1h-4zM827 284h5v1h-5zM639 285h5v1h-5zM826 285h4v1h-4zM643 286h3v1h-3zM825 286h1v1h-1zM827 286h4v1h-4zM640 287h6v1h-6zM823 287h1v1h-1zM825 287h1v1h-1zM827 287h2v1h-2zM645 288h2v1h-2zM822 288h4v1h-4zM827 288h1v1h-1zM642 289h6v1h-6zM820 289h1v1h-1zM822 289h4v1h-4zM827 289h1v1h-1zM643 290h1v1h-1zM648 290h1v1h-1zM818 290h1v1h-1zM820 290h1v1h-1zM822 290h1v1h-1zM824 290h2v1h-2zM644 291h6v1h-6zM817 291h4v1h-4zM822 291h1v1h-1zM645 292h2v1h-2zM815 292h1v1h-1zM817 292h1v1h-1zM819 292h4v1h-4zM646 293h6v1h-6zM813 293h3v1h-3zM817 293h1v1h-1zM819 293h2v1h-2zM647 294h3v1h-3zM812 294h1v1h-1zM814 294h4v1h-4zM819 294h1v1h-1zM648 295h5v1h-5zM810 295h1v1h-1zM812 295h1v1h-1zM814 295h4v1h-4zM648 296h4v1h-4zM809 296h2v1h-2zM812 296h1v1h-1zM814 296h1v1h-1zM651 297h4v1h-4zM807 297h1v1h-1zM809 297h4v1h-4zM814 297h1v1h-1zM650 298h5v1h-5zM805 298h1v1h-1zM807 298h1v1h-1zM809 298h1v1h-1zM811 298h2v1h-2zM654 299h3v1h-3zM804 299h4v1h-4zM809 299h1v1h-1zM811 299h1v1h-1zM652 300h6v1h-6zM802 300h1v1h-1zM804 300h1v1h-1zM806 300h4v1h-4zM657 301h2v1h-2zM800 301h3v1h-3zM804 301h1v1h-1zM806 301h2v1h-2zM654 302h6v1h-6zM799 302h1v1h-1zM801 302h2v1h-2zM804 302h1v1h-1zM806 302h1v1h-1zM654 303h1v1h-1zM659 303h1v1h-1zM705 303h4v1h-4zM710 303h2v1h-2zM713 303h1v1h-1zM715 303h2v1h-2zM718 303h4v1h-4zM723 303h2v1h-2zM726 303h1v1h-1zM728 303h2v1h-2zM731 303h4v1h-4zM736 303h2v1h-2zM739 303h1v1h-1zM741 303h2v1h-2zM744 303h5v1h-5zM750 303h1v1h-1zM797 303h1v1h-1zM799 303h1v1h-1zM801 303h4v1h-4zM655 304h6v1h-6zM701 304h2v1h-2zM704 304h1v1h-1zM706 304h3v1h-3zM710 304h4v1h-4zM715 304h2v1h-2zM718 304h1v1h-1zM720 304h2v1h-2zM723 304h4v1h-4zM728 304h2v1h-2zM731 304h1v1h-1zM733 304h2v1h-2zM736 304h4v1h-4zM741 304h2v1h-2zM744 304h1v1h-1zM746 304h3v1h-3zM750 304h2v1h-2zM753 304h1v1h-1zM755 304h2v1h-2zM796 304h2v1h-2zM799 304h1v1h-1zM801 304h1v1h-1zM803 304h1v1h-1zM656 305h2v1h-2zM696 305h2v1h-2zM699 305h1v1h-1zM701 305h2v1h-2zM704 305h1v1h-1zM706 305h3v1h-3zM710 305h1v1h-1zM712 305h2v1h-2zM715 305h4v1h-4zM720 305h2v1h-2zM723 305h1v1h-1zM725 305h2v1h-2zM728 305h4v1h-4zM733 305h2v1h-2zM736 305h1v1h-1zM738 305h2v1h-2zM741 305h4v1h-4zM746 305h3v1h-3zM750 305h4v1h-4zM755 305h2v1h-2zM758 305h4v1h-4zM763 305h2v1h-2zM794 305h1v1h-1zM796 305h4v1h-4zM801 305h1v1h-1zM657 306h6v1h-6zM692 306h3v1h-3zM696 306h4v1h-4zM701 306h4v1h-4zM706 306h5v1h-5zM712 306h2v1h-2zM715 306h1v1h-1zM717 306h2v1h-2zM720 306h4v1h-4zM725 306h2v1h-2zM728 306h1v1h-1zM730 306h2v1h-2zM733 306h4v1h-4zM738 306h2v1h-2zM741 306h1v1h-1zM743 306h2v1h-2zM746 306h5v1h-5zM752 306h2v1h-2zM755 306h4v1h-4zM760 306h2v1h-2zM763 306h2v1h-2zM766 306h1v1h-1zM768 306h2v1h-2zM792 306h1v1h-1zM794 306h1v1h-1zM796 306h1v1h-1zM798 306h2v1h-2zM658 307h3v1h-3zM688 307h2v1h-2zM691 307h1v1h-1zM693 307h2v1h-2zM696 307h1v1h-1zM698 307h2v1h-2zM701 307h1v1h-1zM703 307h2v1h-2zM706 307h2v1h-2zM709 307h2v1h-2zM712 307h4v1h-4zM717 307h2v1h-2zM720 307h1v1h-1zM722 307h2v1h-2zM725 307h4v1h-4zM730 307h2v1h-2zM733 307h1v1h-1zM735 307h2v1h-2zM738 307h4v1h-4zM743 307h2v1h-2zM746 307h2v1h-2zM749 307h2v1h-2zM752 307h2v1h-2zM755 307h1v1h-1zM757 307h2v1h-2zM760 307h2v1h-2zM763 307h1v1h-1zM765 307h2v1h-2zM768 307h2v1h-2zM771 307h4v1h-4zM776 307h2v1h-2zM791 307h4v1h-4zM796 307h1v1h-1zM798 307h1v1h-1zM660 308h5v1h-5zM683 308h2v1h-2zM686 308h1v1h-1zM688 308h2v1h-2zM691 308h1v1h-1zM693 308h2v1h-2zM696 308h1v1h-1zM698 308h2v1h-2zM701 308h1v1h-1zM703 308h2v1h-2zM752 308h4v1h-4zM757 308h2v1h-2zM760 308h4v1h-4zM765 308h2v1h-2zM768 308h4v1h-4zM773 308h2v1h-2zM776 308h2v1h-2zM779 308h1v1h-1zM781 308h2v1h-2zM784 308h1v1h-1zM789 308h1v1h-1zM791 308h1v1h-1zM793 308h2v1h-2zM796 308h1v1h-1zM660 309h4v1h-4zM679 309h3v1h-3zM683 309h4v1h-4zM688 309h4v1h-4zM693 309h4v1h-4zM698 309h3v1h-3zM758 309h1v1h-1zM760 309h1v1h-1zM762 309h2v1h-2zM765 309h2v1h-2zM768 309h1v1h-1zM770 309h2v1h-2zM773 309h2v1h-2zM776 309h1v1h-1zM778 309h2v1h-2zM781 309h2v1h-2zM784 309h6v1h-6zM791 309h1v1h-1zM793 309h3v1h-3zM663 310h4v1h-4zM675 310h2v1h-2zM678 310h1v1h-1zM680 310h2v1h-2zM683 310h1v1h-1zM685 310h2v1h-2zM688 310h1v1h-1zM690 310h2v1h-2zM693 310h1v1h-1zM695 310h1v1h-1zM765 310h4v1h-4zM770 310h2v1h-2zM773 310h4v1h-4zM778 310h2v1h-2zM781 310h4v1h-4zM786 310h4v1h-4zM791 310h1v1h-1zM793 310h1v1h-1zM661 311h5v1h-5zM670 311h2v1h-2zM673 311h1v1h-1zM675 311h2v1h-2zM678 311h1v1h-1zM680 311h2v1h-2zM683 311h1v1h-1zM685 311h4v1h-4zM690 311h2v1h-2zM771 311h1v1h-1zM773 311h1v1h-1zM775 311h2v1h-2zM778 311h2v1h-2zM781 311h1v1h-1zM783 311h2v1h-2zM786 311h6v1h-6zM665 312h4v1h-4zM670 312h4v1h-4zM675 312h4v1h-4zM680 312h4v1h-4zM685 312h2v1h-2zM778 312h4v1h-4zM783 312h2v1h-2zM786 312h3v1h-3zM790 312h1v1h-1zM663 313h6v1h-6zM670 313h1v1h-1zM672 313h2v1h-2zM675 313h1v1h-1zM677 313h2v1h-2zM680 313h1v1h-1zM682 313h1v1h-1zM786 313h1v1h-1zM788 313h1v1h-1zM667 314h4v1h-4zM672 314h4v1h-4zM677 314h2v1h-2zM667 315h4v1h-4zM672 315h2v1h-2zM667 316h1v1h-1zM669 316h1v1h-1z" fill="#ff0000" shape-rendering="crispEdges"/>
<path d="M59.70 60.30l1.6 0l3.4 3.4l0 1.6l-3.4 3.4l-1.6 0l-3.4 -3.4l0 -1.6zM99.70 79.30l1.6 0l3.4 3.4l0 1.6l-3.4 3.4l-1.6 0l-3.4 -3.4l0 -1.6zM140.70 74.30l1.6 0l3.4 3.4l0 1.6l-3.4 3.4l-1.6 0l-3.4 -3.4l0 -1.6zM180.70 65.30l1.6 0l3.4 3.4l0 1.6l-3.4 3.4l-1.6 0l-3.4 -3.4l0 -1.6zM221.70 58.30l1.6 0l3.4 3.4l0 1.6l-3.4 3.4l-1.6 0l-3.4 -3.4l0 -1.6zM261.70 78.30l1.6 0l3.4 3.4l0 1.6l-3.4 3.4l-1.6 0l-3.4 -3.4l0 -1.6zM302.70 75.30l1.6 0l3.4 3.4l0 1.6l-3.4 3.4l-1.6 0l-3.4 -3.4l0 -1.6zM342.70 91.30l1.6 0l3.4 3.4l0 1.6l-3.4 3.4l-1.6 0l-3.4 -3.4l0 -1.6zM382.70 52.30l1.6 0l3.4 3.4l0 1.6l-3.4 3.4l-1.6 0l-3.4 -3.4l0 -1.6zM423.70 110.30l1.6 0l3.4 3.4l0 1.6l-3.4 3.4l-1.6 0l-3.4 -3.4l0 -1.6zM463.70 63.30l1.6 0l3.4 3.4l0 1.6l-3.4 3.4l-1.6 0l-3.4 -3.4l0 -1.6zM504.70 253.30l1.6 0l3.4 3.4l0 1.6l-3.4 3.4l-1.6 0l-3.4 -3.4l0 -1.6zM544.70 264.30l1.6 0l3.4 3.4l0 1.6l-3.4 3.4l-1.6 0l-3.4 -3.4l0 -1.6zM585.70 274.30l1.6 0l3.4 3.4l0 1.6l-3.4 3.4l-1.6 0l-3.4 -3.4l0 -1.6zM625.70 263.30l1.6 0l3.4 3.4l0 1.6l-3.4 3.4l-1.6 0l-3.4 -3.4l0 -1.6zM666.70 310.30l1.6 0l3.4 3.4l0 1.6l-3.4 3.4l-1.6 0l-3.4 -3.4l0 -1.6zM706.70 301.30l1.6 0l3.4 3.4l0 1.6l-3.4 3.4l-1.6 0l-3.4 -3.4l0 -1.6zM746.70 301.30l1.6 0l3.4 3.4l0 1.6l-3.4 3.4l-1.6 0l-3.4 -3.4l0 -1.6zM787.70 307.30l1.6 0l3.4 3.4l0 1.6l-3.4 3.4l-1.6 0l-3.4 -3.4l0 -1.6zM827.70 282.30l1.6 0l3.4 3.4l0 1.6l-3.4 3.4l-1.6 0l-3.4 -3.4l0 -1.6zM868.70 207.30l1.6 0l3.4 3.4l0 1.6l-3.4 3.4l-1.6 0l-3.4 -3.4l0 -1.6zM908.70 194.30l1.6 0l3.4 3.4l0 1.6l-3.4 3.4l-1.6 0l-3.4 -3.4l0 -1.6zM949.70 204.30l1.6 0l3.4 3.4l0 1.6l-3.4 3.4l-1.6 0l-3.4 -3.4l0 -1.6zM989.70 215.30l1.6 0l3.4 3.4l0 1.6l-3.4 3.4l-1.6 0l-3.4 -3.4l0 -1.6z" fill="#0000ff" stroke="#4cd8f4" stroke-width="1" stroke-linejoin="round"/>
<g stroke="#ffffff" stroke-width="1" shape-rendering="crispEdges" fill="none">
<line x1="60.5" y1="52" x2="60.5" y2="341"/>
<line x1="55" y1="52.5" x2="60" y2="52.5"/>
<line x1="57" y1="68.5" x2="60" y2="68.5"/>
<line x1="55" y1="84.5" x2="60" y2="84.5"/>
<line x1="57" y1="100.5" x2="60" y2="100.5"/>
<line x1="55" y1="116.5" x2="60" y2="116.5"/>
<line x1="57" y1="132.5" x2="60" y2="132.5"/>
<line x1="55" y1="148.5" x2="60" y2="148.5"/>
<line x1="57" y1="164.5" x2="60" y2="164.5"/>
<line x1="55" y1="180.5" x2="60" y2="180.5"/>
<line x1="57" y1="196.5" x2="60" y2="196.5"/>
<line x1="55" y1="212.5" x2="60" y2="212.5"/>
<line x1="57" y1="228.5" x2="60" y2="228.5"/>
<line x1="55" y1="244.5" x2="60" y2="244.5"/>
<line x1="57" y1="260.5" x2="60" y2="260.5"/>
<line x1="55" y1="276.5" x2="60" y2="276.5"/>
<line x1="57" y1="292.5" x2="60" y2="292.5"/>
<line x1="55" y1="308.5" x2="60" y2="308.5"/>
<line x1="57" y1="324.5" x2="60" y2="324.5"/>
<line x1="55" y1="340.5" x2="60" y2="340.5"/>
</g>
<text x="269.1" y="21.6" font-weight="bold" font-size="21.33px" letter-spacing="-0.22">Thursday, February 12, 2026 Spot Gold</text>
<text class="m" transform="translate(19,24) scale(1.1700,1)" letter-spacing="-0.556">24-Hours</text>
<text class="m" transform="translate(19,39) scale(1.1700,1)" letter-spacing="-0.556">pricegold.net</text>
<text class="m" transform="translate(113.2,391) scale(1.1700,1)" letter-spacing="-0.556">Open : $5,072.29</text>
<text class="m" transform="translate(284,391) scale(1.1700,1)" letter-spacing="-0.556">High: $5,077.26</text>
<text class="m" transform="translate(590,391) scale(1.1700,1)" letter-spacing="-0.556">Low: $4,916.16</text>
<text class="m" transform="translate(743,391) scale(1.1700,1)" letter-spacing="-0.556">Close: $4,975.61</text>
<rect x="436" y="371" width="129" height="22" fill="#fff"/>
<path d="M446.5 381.2Q446.7 383.2 448.7 383.4Q446.7 383.6 446.5 385.6Q446.3 383.6 444.3 383.4Q446.3 383.2 446.5 381.2z" fill="#0000ff" stroke="#0000ff" stroke-width="0.9"/><path d="M446.5 380.6v1M446.5 385.2v1M443.7 383.4h1M448.3 383.4h1" stroke="#40d0f0" stroke-width="1" opacity="0.7"/>
<text x="461" y="386" font-size="11px" letter-spacing="0.18" style="fill:#000">Gold 24k 1 gram</text>
</svg></body></html>
